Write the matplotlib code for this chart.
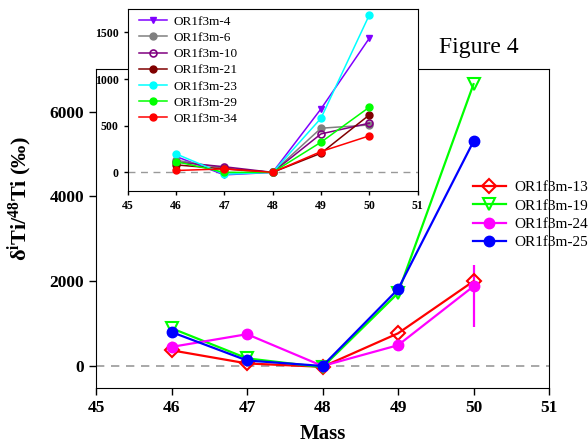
import numpy as np
from matplotlib import pyplot as plt

plt.rcParams['font.family'] = ['Liberation Serif', 'DejaVu Serif']
plt.rcParams['mathtext.fontset'] = 'custom'
plt.rcParams['mathtext.rm'] = 'Liberation Serif'
plt.rcParams['mathtext.bf'] = 'Liberation Serif:bold'
plt.rcParams['mathtext.it'] = 'Liberation Serif:italic'

# Main panel data
mass = [46, 47, 48, 49, 50]
main_labels = ['OR1f3m-13', 'OR1f3m-19', 'OR1f3m-24', 'OR1f3m-25']
main_values = [
    [370, 60, -20, 770, 2000],
    [890, 180, -30, 1720, 6650],
    [450, 750, 0, 490, 1880],
    [800, 130, 0, 1810, 5300],
]
err_24_low = 970
err_24_high = 500

# Inset panel data
inset_labels = ['OR1f3m-4', 'OR1f3m-6', 'OR1f3m-10', 'OR1f3m-21',
                'OR1f3m-23', 'OR1f3m-29', 'OR1f3m-34']
inset_values = [
    [170, -27, 0, 680, 1437],
    [130, 45, 0, 473, 508],
    [110, 60, 0, 412, 527],
    [80, 37, 0, 205, 615],
    [198, -20, 0, 580, 1686],
    [116, 0, 0, 323, 698],
    [20, 37, 0, 223, 391],
]

if __name__ == "__main__":
    fig = plt.figure(figsize=(5.88, 4.46), dpi=100)
    ax = fig.add_axes([0.1633, 0.13, 0.7704, 0.7146])

    styles = [
        dict(color='#FF0000', marker='D', mfc='none', mec='#FF0000', ms=7.5, mew=1.5),
        dict(color='#00FF00', marker='v', mfc='none', mec='#00FF00', ms=9, mew=1.5),
        dict(color='#FF00FF', marker='o', mfc='#FF00FF', mec='#FF00FF', ms=7.5),
        dict(color='#0000FF', marker='o', mfc='#0000FF', mec='#0000FF', ms=7.5),
    ]
    ax.axhline(0, color='#999999', ls=(0, (5, 4)), lw=1.2, zorder=1)
    for lab, vals, st in zip(main_labels, main_values, styles):
        ax.plot(mass, vals, lw=1.6, label=lab, zorder=3, **st)
    # error bar on OR1f3m-24 at mass 50
    ax.errorbar([mass[-1]], [main_values[2][-1]],
                yerr=[[err_24_low], [err_24_high]], fmt='none',
                ecolor='#FF00FF', elinewidth=1.6, capsize=0, zorder=2)

    ax.set_xlim(45, 51)
    ax.set_ylim(-520, 7000)
    ax.set_xticks([45, 46, 47, 48, 49, 50, 51])
    ax.set_yticks([0, 2000, 4000, 6000])
    ax.tick_params(direction='out', length=5, width=1, labelsize=12.5,
                   top=False, right=False)
    for t in ax.get_xticklabels() + ax.get_yticklabels():
        t.set_fontweight('bold')
    ax.set_xlabel('Mass', fontsize=15, fontweight='bold', labelpad=6)

    fig.text(20 / 588, 1 - 199 / 446,
             r'$\mathbf{\delta^{i}Ti/^{48}Ti}$ (‰)'.replace(r'\delta', 'δ'),
             rotation=90, ha='center', va='center', fontsize=16,
             fontweight='bold')

    ax.legend(loc='upper left', bbox_to_anchor=(0.804, 0.595),
              bbox_transform=fig.transFigure, frameon=False, fontsize=11,
              handlelength=2.15, handletextpad=0.55, labelspacing=0.3,
              borderpad=0, borderaxespad=0)

    fig.text(439 / 588, 1 - 47 / 446, 'Figure 4', fontsize=17,
             ha='left', va='center')

    # Inset
    ins = fig.add_axes([0.2172, 0.5717, 0.493, 0.408], zorder=5)
    ins.set_facecolor('white')
    inset_styles = [
        dict(color='#8000FF', marker='v', mfc='#8000FF', mec='#8000FF'),
        dict(color='#808080', marker='o', mfc='#808080', mec='#808080'),
        dict(color='#800080', marker='o', mfc='none', mec='#800080', mew=1.2),
        dict(color='#800000', marker='o', mfc='#800000', mec='#800000'),
        dict(color='#00FFFF', marker='o', mfc='#00FFFF', mec='#00FFFF'),
        dict(color='#00FF00', marker='o', mfc='#00FF00', mec='#00FF00'),
        dict(color='#FF0000', marker='o', mfc='#FF0000', mec='#FF0000'),
    ]
    ins.axhline(0, color='#999999', ls=(0, (5, 4)), lw=1.0, zorder=1)
    for lab, vals, st in zip(inset_labels, inset_values, inset_styles):
        ins.plot(mass, vals, lw=1.1, ms=5, label=lab, zorder=3, **st)
    ins.set_xlim(45, 51)
    ins.set_ylim(-200, 1750)
    ins.set_xticks([45, 46, 47, 48, 49, 50, 51])
    ins.set_yticks([0, 500, 1000, 1500])
    ins.tick_params(direction='out', length=3, width=1, labelsize=8.5)
    for t in ins.get_xticklabels() + ins.get_yticklabels():
        t.set_fontweight('bold')
    ins.legend(loc='upper left', bbox_to_anchor=(0.2364, 0.965),
               bbox_transform=fig.transFigure, frameon=False, fontsize=9.5,
               handlelength=2.1, handletextpad=0.5, labelspacing=0.3,
               borderpad=0, borderaxespad=0)

    fig.savefig('out.png', dpi=100)
